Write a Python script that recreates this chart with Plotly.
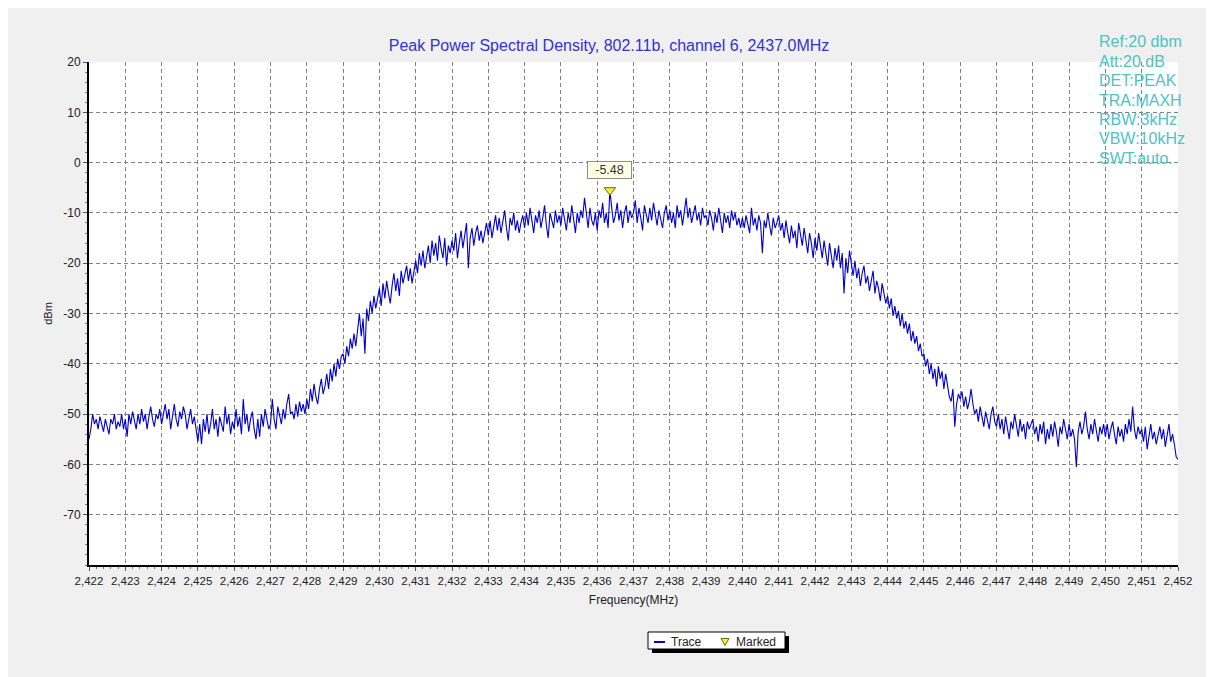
import numpy as np
import plotly.graph_objects as go

# ---------------- data ----------------
title_text = "Peak Power Spectral Density, 802.11b, channel 6, 2437.0MHz"
freq_start_mhz = 2422
freq_stop_mhz = 2452

# trace level in dBm, 20 points per MHz
level_dbm = [
    # 2422
    -55, -53, -50, -52, -51, -53, -50.5, -52, -53.5, -51, -52.5, -54, -51, -52, -50, -53, -51.5, -52.5, -50, -53,
    # 2423
    -51, -54.5, -50, -52, -49.5, -51, -53, -50, -52, -49, -51.5, -50, -53, -50.5, -48.5, -51, -52.5, -50, -51, -49,
    # 2424
    -52, -50, -48, -51, -49, -53, -50.5, -48, -51, -52.5, -49.5, -51, -48.5, -50, -53, -51, -49, -52, -50.5, -53,
    # 2425
    -55.5, -52, -56, -51, -53.5, -50, -54, -52, -49, -53, -51, -54.5, -50.5, -52, -53.5, -48.5, -52, -50, -54, -51.5,
    # 2426
    -53, -49, -52.5, -50.5, -54, -47, -52, -50, -53.5, -51, -49.5, -53, -55, -51, -54.5, -50, -52.5, -49, -51.5, -53,
    # 2427
    -52, -47, -51, -53, -48.5, -50.5, -52, -49, -51, -48, -46, -50, -49.5, -51, -48, -50.5, -47.5, -49.5, -48, -50,
    # 2428
    -47, -49, -45, -47.5, -44, -46.5, -48, -45, -43, -46, -44.5, -42, -45, -41, -43.5, -40, -42.5, -39, -41, -38.5,
    # 2429
    -38, -40, -36.5, -38.5, -35, -37, -34, -36.5, -33, -30, -34.5, -31, -38, -29, -31.5, -27.5, -30, -26.5, -29, -27,
    # 2430
    -25, -28.5, -24, -27, -23.5, -26, -28, -24.5, -22, -25.5, -23, -26.5, -21.5, -24, -22.5, -20.5, -23.5, -21, -24, -22,
    # 2431
    -19.5, -22, -18, -20.5, -17.5, -21, -19, -16.5, -20, -15.5, -18.5, -16, -19.5, -14.5, -17, -19, -15, -20.5, -16.5, -18,
    # 2432
    -15.5, -17.5, -14, -19, -16, -13.5, -17, -14.5, -12, -21, -15, -13, -16.5, -14, -12.5, -15.5, -13.5, -16, -14, -12,
    # 2433
    -14.5, -11.5, -15, -12.5, -10.5, -13.5, -11, -14, -12, -9.5, -13, -15.5, -11, -12.5, -10, -13.5, -11.5, -14, -12, -10.5,
    # 2434
    -13, -10, -12.5, -9, -11.5, -14, -10.5, -12, -9.5, -13, -11, -8.5, -12.5, -15, -10, -11.5, -13, -9.5, -12, -10.5,
    # 2435
    -12.5, -9, -11, -13.5, -10, -12, -8.5, -11.5, -14, -10, -12, -9.5, -11, -7, -10.5, -13, -9, -11.5, -12.5, -10,
    # 2436
    -13.5, -9.5, -11, -8, -12, -10, -13, -5.5, -9, -12, -10.5, -8, -11.5, -9.5, -13, -10, -8.5, -12, -9.5, -11,
    # 2437
    -10, -7.5, -12, -9, -11, -13.5, -8.5, -10.5, -12, -9, -11.5, -8, -10, -12.5, -9.5, -11, -13, -10, -8.5, -11.5,
    # 2438
    -9.5, -12, -10, -13, -8.5, -11, -9.5, -12.5, -10, -7, -11, -9, -12, -10.5, -8.5, -11.5, -10, -12.5, -9, -11,
    # 2439
    -10.5, -12.5, -9.5, -11, -13.5, -10, -12, -9, -11.5, -14, -10, -12, -10.5, -13, -9.5, -11.5, -10, -12.5, -11, -13,
    # 2440
    -11, -13, -10.5, -12, -14, -9, -12.5, -11, -13.5, -10.5, -12, -18, -11.5, -13, -10, -12.5, -14.5, -11, -13, -12,
    # 2441
    -10.5, -13.5, -12, -15, -11.5, -14, -16, -12.5, -15, -13.5, -17, -12, -14.5, -16.5, -13, -15.5, -18, -14, -16, -19,
    # 2442
    -15, -17.5, -14, -16.5, -19, -15.5, -18, -20.5, -16, -18.5, -21, -17, -19.5, -16.5, -21, -18, -26, -19, -22, -17.5,
    # 2443
    -20, -22.5, -19.5, -23, -21, -24.5, -22, -20.5, -24, -22.5, -25.5, -23, -21.5, -26, -23.5, -25, -27.5, -24, -26.5, -28,
    # 2444
    -26.5, -29, -27, -30.5, -28.5, -31, -29.5, -32.5, -30, -33, -31.5, -34, -32, -35.5, -33.5, -36, -34.5, -37.5, -36, -38.5,
    # 2445
    -38, -40.5, -39, -42, -40, -43, -41, -44.5, -40.5, -43, -41.5, -45, -42, -44, -46.5, -47.5, -45, -52.5, -48, -46,
    # 2446
    -47, -45.5, -48.5, -46.5, -49, -47.5, -45, -48, -50, -49, -51.5, -48.5, -50.5, -52.5, -49.5, -51, -53, -50, -48.5, -51.5,
    # 2447
    -52.5, -50, -53, -51, -54, -50.5, -52.5, -55, -51.5, -53, -50, -52.5, -54.5, -51, -53.5, -52, -55, -51.5, -53, -52,
    # 2448
    -51, -54, -52.5, -55.5, -52, -54, -51.5, -56, -53, -55, -52, -54.5, -51.5, -53.5, -56.5, -52.5, -54, -51, -53.5, -55,
    # 2449
    -52, -54.5, -53, -55, -60.5, -53.5, -51.5, -54, -52.5, -49.5, -53, -55, -52, -54, -51, -53.5, -55.5, -52.5, -54, -52,
    # 2450
    -54.5, -52, -55, -53, -51.5, -54, -56, -52.5, -54.5, -53, -55.5, -52, -54, -51, -53.5, -48.5, -53, -55, -52.5, -54,
    # 2451
    -53, -55.5, -52.5, -57, -54, -52, -55, -53.5, -56, -54, -52.5, -55, -53, -56.5, -54.5, -52, -55.5, -54, -56, -58.5,
    # 2452
    -59,
]

marker_freq_mhz = [2436.35]
marker_level_dbm = [-5.48]
marker_label = "-5.48"

y_tick_vals = [20, 10, 0, -10, -20, -30, -40, -50, -60, -70]
y_tick_text = ["20", "10", "0", "-10", "-20", "-30", "-40", "-50", "-60", "-70"]

info_lines = ["Ref:20 dbm", "Att:20.dB", "DET:PEAK", "TRA:MAXH",
              "RBW:3kHz", "VBW:10kHz", "SWT:auto."]

legend_names = ["Trace", "Marked"]

# ---------------- layout geometry ----------------
# the page body adds an 8px margin, so the figure is drawn 8px in from the window edge
OFF = 8
W, H = 1214 - OFF, 677 - OFF
L, R, T, B = 89 - OFF, 1178 - OFF, 62 - OFF, 565 - OFF
PW, PH = R - L, B - T


def px_x(px):
    """window x pixel -> paper fraction"""
    return (px - OFF - L) / PW


def px_y(py):
    """window y pixel -> paper fraction"""
    return (B - (py - OFF)) / PH


freq = np.linspace(freq_start_mhz, freq_stop_mhz, len(level_dbm))

FONT = "Liberation Sans, Arial, sans-serif"
TRACE_BLUE = "#0000CC"
MARK_YELLOW = "#F2EE3A"
MARK_EDGE = "#6B6A10"

fig = go.Figure()
fig.add_trace(go.Scatter(
    x=freq, y=level_dbm, mode="lines", name=legend_names[0],
    line=dict(color=TRACE_BLUE, width=1.1), showlegend=False,
))
fig.add_trace(go.Scatter(
    x=marker_freq_mhz, y=marker_level_dbm, mode="markers", name=legend_names[1],
    marker=dict(symbol="triangle-down", size=10, color=MARK_YELLOW,
                line=dict(color=MARK_EDGE, width=1)), showlegend=False,
))

annotations = [
    dict(x=marker_freq_mhz[0], y=marker_level_dbm[0], xref="x", yref="y",
         text=marker_label, showarrow=False, yshift=20, width=39, height=12,
         bgcolor="#FFFFE1", bordercolor="#8C8C8C", borderwidth=1, borderpad=2,
         font=dict(family=FONT, size=12.5, color="#333333")),
]
for i, line in enumerate(info_lines):
    annotations.append(dict(
        x=px_x(1097), y=px_y(42 + i * 19.4), xref="paper", yref="paper",
        xanchor="left", yanchor="middle", text=line, showarrow=False,
        font=dict(family=FONT, size=16, color="#4FC2C2"),
    ))

# legend (drawn by hand to match the compact boxed legend with a drop shadow)
annotations.append(dict(x=px_x(669), y=px_y(641.5), xref="paper", yref="paper",
                        xanchor="left", yanchor="middle", text=legend_names[0],
                        showarrow=False, font=dict(family=FONT, size=12, color="#222222")))
annotations.append(dict(x=px_x(734), y=px_y(641.5), xref="paper", yref="paper",
                        xanchor="left", yanchor="middle", text=legend_names[1],
                        showarrow=False, font=dict(family=FONT, size=12, color="#222222")))

tri = [(721, 638.5), (729, 638.5), (725, 645.5)]
tri_path = "M {} {} L {} {} L {} {} Z".format(
    px_x(tri[0][0]), px_y(tri[0][1]), px_x(tri[1][0]), px_y(tri[1][1]),
    px_x(tri[2][0]), px_y(tri[2][1]))

shapes = [
    dict(type="line", xref="paper", yref="paper", x0=px_x(1212.5), x1=px_x(1212.5),
         y0=px_y(8), y1=px_y(677), line=dict(color="#C8C8C8", width=1), layer="below"),
    # legend shadow + box
    dict(type="rect", xref="paper", yref="paper", x0=px_x(652), x1=px_x(789),
         y0=px_y(653), y1=px_y(636), fillcolor="black", line_width=0, layer="above"),
    dict(type="rect", xref="paper", yref="paper", x0=px_x(648), x1=px_x(785),
         y0=px_y(649), y1=px_y(632), fillcolor="white",
         line=dict(color="black", width=1), layer="above"),
    dict(type="line", xref="paper", yref="paper", x0=px_x(654), x1=px_x(665),
         y0=px_y(642), y1=px_y(642), line=dict(color=TRACE_BLUE, width=2), layer="above"),
    dict(type="path", xref="paper", yref="paper", path=tri_path,
         fillcolor=MARK_YELLOW, line=dict(color=MARK_EDGE, width=1), layer="above"),
]

fig.update_layout(
    width=W, height=H,
    margin=dict(l=L, r=W - R, t=T, b=H - B),
    paper_bgcolor="#F0F0F0", plot_bgcolor="white",
    font=dict(family=FONT, size=12, color="#222222"),
    title=dict(text=title_text, x=(609 - OFF) / W, xref="container", xanchor="center",
               y=1 - (45 - OFF) / H, yref="container", yanchor="middle",
               font=dict(family=FONT, size=16, color="#3333CC")),
    showlegend=False,
    annotations=annotations,
    shapes=shapes,
)

fig.update_xaxes(
    range=[freq_start_mhz, freq_stop_mhz], dtick=1, tick0=freq_start_mhz,
    tickformat=",d", tickfont=dict(size=11.5, color="#222222"),
    showline=True, linecolor="black", linewidth=2,
    ticks="outside", ticklen=4, tickcolor="#555555",
    minor=dict(dtick=0.2, ticks="outside", ticklen=2, tickcolor="#777777", showgrid=False),
    showgrid=True, gridcolor="#808080", gridwidth=1, griddash="4px,3px",
    zeroline=False,
    title=dict(text="Frequency(MHz)", standoff=10, font=dict(size=12, color="#222222")),
)
fig.update_yaxes(
    range=[-80, 20], tickvals=y_tick_vals, ticktext=y_tick_text,
    tickfont=dict(size=12, color="#222222"),
    showline=True, linecolor="black", linewidth=2,
    ticks="outside", ticklen=4, tickcolor="#555555",
    minor=dict(dtick=2, ticks="outside", ticklen=2, tickcolor="#777777", showgrid=False),
    showgrid=True, gridcolor="#808080", gridwidth=1, griddash="4px,3px",
    zeroline=False,
    title=dict(text="dBm", standoff=8, font=dict(size=11, color="#222222")),
)

fig.write_html("out.html")
